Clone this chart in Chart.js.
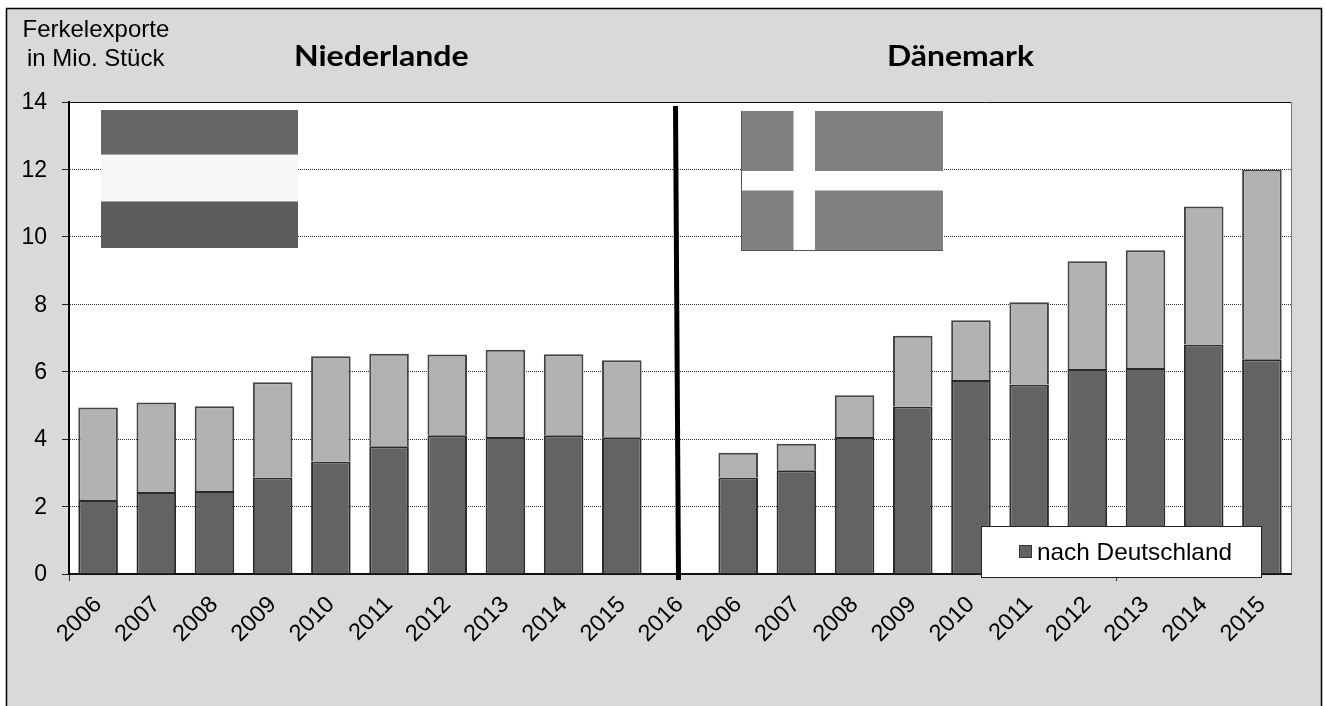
<!DOCTYPE html>
<html><head><meta charset="utf-8">
<script src="https://cdn.jsdelivr.net/npm/chart.js@4/dist/chart.umd.min.js"></script>
<style>html,body{margin:0;padding:0;background:#fff;overflow:hidden}canvas{display:block}</style>
</head><body>
<canvas id="c" width="1326" height="706"></canvas>
<script>
const categories = ["2006","2007","2008","2009","2010","2011","2012","2013","2014","2015","2016","2006","2007","2008","2009","2010","2011","2012","2013","2014","2015"];
const nachDeutschland = [2.195,2.43,2.46,2.86,3.34,3.79,4.115,4.065,4.115,4.055,null,2.86,3.076,4.065,4.965,5.755,5.62,6.08,6.11,6.805,6.37];
const andereLaender = [2.74,2.66,2.515,2.83,3.12,2.74,2.395,2.59,2.405,2.285,null,0.74,0.79,1.235,2.105,1.775,2.44,3.20,3.495,4.095,5.63];
const yTicks = [0,2,4,6,8,10,12,14];
const visibleXTicks = [0,18];

function stretched(g,text,x,y,sx){
  g.save(); g.translate(x,y); g.scale(sx,1); g.fillText(text,0,0); g.restore();
}

const decor = {
  id:'decor',
  beforeDraw(ch){
    const g=ch.ctx, a=ch.chartArea;
    g.save();
    g.fillStyle='#fff'; g.fillRect(0,0,1326,706);
    g.fillStyle='#d9d9d9'; g.fillRect(6,8,1316,698);
    g.strokeStyle='#000'; g.lineWidth=1.5;
    g.beginPath(); g.moveTo(6.5,706); g.lineTo(6.5,8.5); g.lineTo(1321.5,8.5); g.lineTo(1321.5,706); g.stroke();
    g.fillStyle='#fff'; g.fillRect(a.left,a.top,a.right-a.left,a.bottom-a.top);
    g.restore();
  },
  beforeDatasetsDraw(ch){
    const g=ch.ctx;
    g.save();
    // Dutch flag
    g.fillStyle='#666666'; g.fillRect(101,110,197,45);
    g.fillStyle='#f7f7f7'; g.fillRect(101,155,197,47);
    g.fillStyle='#5c5c5c'; g.fillRect(101,202,197,46);
    g.fillStyle='#a8a8a8'; g.fillRect(101,154,197,1); g.fillRect(101,201,197,1);
    // Danish flag
    g.fillStyle='#ffffff'; g.fillRect(741,111,202,139);
    g.fillStyle='#808080';
    g.fillRect(741,111,52.5,60); g.fillRect(815,111,128,60);
    g.fillRect(741,190.5,52.5,59.5); g.fillRect(815,190.5,128,59.5);
    g.fillStyle='#555'; g.fillRect(741,111,1,139); g.fillRect(741,250,202,1);
    g.restore();
  },
  afterDatasetsDraw(ch){
    const g=ch.ctx, a=ch.chartArea;
    g.save();
    // plot frame
    g.strokeStyle='#111'; g.lineWidth=1;
    g.beginPath(); g.moveTo(a.left,a.top+0.5); g.lineTo(a.right,a.top+0.5); g.stroke();
    g.strokeStyle='#777';
    g.beginPath(); g.moveTo(a.right+0.5,a.top); g.lineTo(a.right+0.5,a.bottom); g.stroke();
    // separator
    g.strokeStyle='#000'; g.lineWidth=5;
    g.beginPath(); g.moveTo(675.5,106); g.lineTo(678.5,580); g.stroke();
    // legend
    g.fillStyle='#fff'; g.fillRect(981,526,280,51);
    g.strokeStyle='#222'; g.lineWidth=1; g.strokeRect(981.5,526.5,280,51);
    g.fillStyle='#636363'; g.fillRect(1019.5,545.5,12,12);
    g.strokeStyle='#333'; g.strokeRect(1019.5,545.5,12,12);
    g.fillStyle='#000'; g.textBaseline='alphabetic'; g.textAlign='left';
    g.font='24px "Liberation Sans"';
    stretched(g,'nach Deutschland',1037,560,1.015);
    stretched(g,'Ferkelexporte',22.5,37,1.0);
    stretched(g,'in Mio. Stück',27,66,1.0);
    g.font='bold 29px "Lato"';
    stretched(g,'Niederlande',294,66,1.105);
    stretched(g,'Dänemark',887,66,1.1);
    g.restore();
  }
};

new Chart(document.getElementById('c'),{
  type:'bar',
  data:{labels:categories,datasets:[
    {label:'nach Deutschland',data:nachDeutschland,backgroundColor:'#636363',borderColor:'#2a2a2a',borderWidth:2,stack:'s',categoryPercentage:1,barPercentage:0.68},
    {label:'andere Länder',data:andereLaender,backgroundColor:'#b2b2b2',borderColor:'#444444',borderWidth:2,stack:'s',categoryPercentage:1,barPercentage:0.68}
  ]},
  options:{
    responsive:false,animation:false,
    layout:{padding:{top:102,right:35,left:0,bottom:0}},
    plugins:{legend:{display:false},title:{display:false},tooltip:{enabled:false}},
    scales:{
      x:{stacked:true,
        afterFit(s){s.height=132;},
        grid:{display:true,drawOnChartArea:false,drawTicks:true,tickLength:7,offset:true,lineWidth:1,
          tickColor:c=>visibleXTicks.includes(c.index)?'#333':'rgba(0,0,0,0)'},
        border:{display:true,color:'#111',width:2},
        ticks:{autoSkip:false,maxRotation:45,minRotation:45,color:'#000',padding:10,font:{family:'"Liberation Sans"',size:23.5}}
      },
      y:{stacked:true,min:0,max:14,
        afterFit(s){s.width=69;},
        afterBuildTicks(s){s.ticks=yTicks.map(v=>({value:v}));},
        grid:{color:'#333',lineWidth:1,tickLength:7,tickColor:'#222',tickBorderDash:[]},
        border:{display:true,color:'#000',width:2,dash:[1,1]},
        ticks:{color:'#000',padding:15,labelOffset:1,font:{family:'"Liberation Sans"',size:23}}
      }
    }
  },
  plugins:[decor]
});
</script>
</body></html>
